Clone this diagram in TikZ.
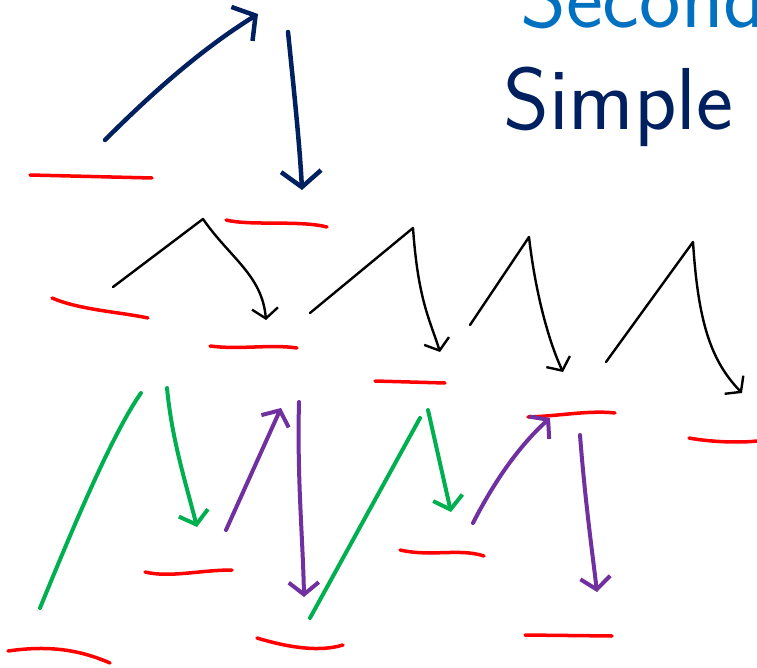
\documentclass[tikz,border=0pt]{standalone}
\usepackage{xcolor}
\usepackage{tikz}
\usetikzlibrary{arrows.meta}
\definecolor{Scarlet}{HTML}{FF0000}
\definecolor{Navy}{HTML}{002060}
\definecolor{Sky}{HTML}{0070C0}
\definecolor{Leaf}{HTML}{00B050}
\definecolor{Plum}{HTML}{7030A0}
\tikzset{
  level/.style={draw=Scarlet, line width=3.5pt, line cap=round},
  navyArr/.style={draw=Navy, line width=4.5pt, line cap=round,
    -{Straight Barb[length=16pt,width=40pt]}},
  zigArr/.style={draw=black, line width=2.4pt, line cap=round, line join=round,
    -{Straight Barb[length=10pt,width=26pt]}},
  greenLine/.style={draw=Leaf, line width=4pt, line cap=round},
  greenArr/.style={greenLine, -{Straight Barb[length=12pt,width=30pt]}},
  purpleArr/.style={draw=Plum, line width=4pt, line cap=round,
    -{Straight Barb[length=12pt,width=30pt]}},
  hand/.style={inner sep=0pt, anchor=base west, font=\sffamily\fontsize{88}{90}\selectfont}
}
\begin{document}
\begin{tikzpicture}[x=1pt,y=-1pt]
  \clip (0,0) rectangle (757,668);
  \fill[white] (0,0) rectangle (757,668);

  \node[hand,text=Sky] (second) at (520,28) {Second};
  \node[hand,text=Navy] (simple) at (503,130) {Simple};

  \draw[level] (30,175) -- (152,178);
  \draw[level] (226,220) .. controls (250,226) and (300,220) .. (327,227);
  \draw[level] (52,298) .. controls (80,310) and (120,312) .. (148,318);
  \draw[level] (210,346) .. controls (240,350) and (270,344) .. (297,348);
  \draw[level] (375,381) -- (445,383);
  \draw[level] (528,417) .. controls (560,416) and (590,410) .. (615,413);
  \draw[level] (689,438) .. controls (710,442) and (740,443) .. (757,441);
  \draw[level] (145,572) .. controls (170,578) and (200,570) .. (232,570);
  \draw[level] (400,550) .. controls (430,557) and (460,548) .. (484,556);
  \draw[level] (8,651) .. controls (50,645) and (80,650) .. (110,663);
  \draw[level] (257,638) .. controls (290,648) and (320,652) .. (343,645);
  \draw[level] (525,635) -- (612,636);

  \draw[navyArr] (105,140) .. controls (150,95) and (200,50) .. (258,14);
  \draw[navyArr] (288,32) .. controls (295,100) and (300,150) .. (302,190);

  \draw[zigArr] (113,287) -- (203,219) .. controls (230,258) and (262,275) .. (266,320);
  \draw[zigArr] (310,313) -- (413,228) .. controls (418,300) and (430,320) .. (440,352);
  \draw[zigArr] (470,325) -- (529,237) .. controls (535,290) and (548,340) .. (563,372);
  \draw[zigArr] (606,362) -- (693,242) .. controls (698,320) and (710,360) .. (742,393);

  \draw[greenLine] (40,608) .. controls (80,510) and (115,430) .. (141,393);
  \draw[greenArr] (167,388) .. controls (172,440) and (185,480) .. (197,527);
  \draw[greenLine] (310,618) -- (420,418);
  \draw[greenArr] (428,410) -- (451,512);

  \draw[purpleArr] (226,530) -- (281,408);
  \draw[purpleArr] (299,402) .. controls (297,480) and (303,540) .. (304,597);
  \draw[purpleArr] (473,523) .. controls (495,480) and (520,445) .. (550,418);
  \draw[purpleArr] (580,435) .. controls (585,500) and (592,550) .. (597,592);
\end{tikzpicture}
\end{document}
